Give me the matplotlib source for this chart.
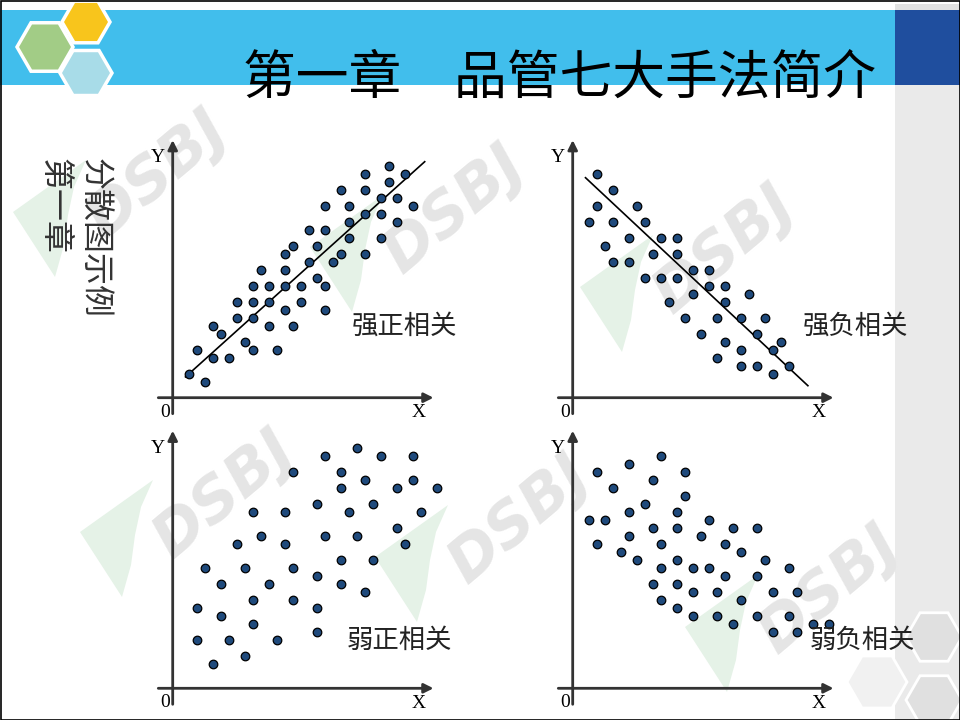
import numpy as np
import matplotlib.pyplot as plt
from matplotlib.patches import Rectangle, RegularPolygon, Polygon

plt.rcParams['font.family'] = ['Noto Sans CJK SC', 'DejaVu Sans']

# ---- data (grid units) ----
strong_pos_x = [2, 4, 3, 5, 5, 6, 7, 8, 8, 9, 10, 10, 10, 10, 11, 12, 12, 12, 13, 14,
                14, 14, 14, 15, 15, 16, 16, 17, 17, 18, 18, 19, 19, 19, 19, 20, 21, 21, 22, 22,
                22, 24, 24, 24, 24, 26, 26, 26, 27, 27, 28, 28, 29, 30]
strong_pos_y = [3, 2, 6, 9, 5, 8, 5, 12, 10, 7, 14, 12, 10, 6, 16, 14, 12, 9, 6, 18,
                16, 14, 11, 19, 9, 14, 12, 21, 17, 19, 15, 24, 21, 14, 11, 17, 26, 18, 24, 22,
                20, 28, 26, 23, 18, 25, 23, 20, 29, 27, 25, 22, 28, 24]
strong_pos_fit_x = [1.6, 31.5]
strong_pos_fit_y = [2.6, 29.5]

strong_neg_x = [3, 5, 3, 8, 2, 5, 9, 7, 11, 13, 4, 10, 13, 5, 7, 15, 17, 9, 11, 13,
                17, 19, 15, 22, 12, 19, 14, 18, 21, 24, 16, 23, 19, 21, 25, 26, 18, 21, 23, 27,
                25]
strong_neg_y = [28, 26, 24, 24, 22, 22, 22, 20, 20, 20, 19, 18, 18, 17, 17, 16, 16, 15, 15, 15,
                14, 14, 13, 13, 12, 12, 10, 10, 10, 10, 8, 8, 7, 6, 6, 7, 5, 4, 4, 4,
                3]
strong_neg_fit_x = [1.6, 29.4]
strong_neg_fit_y = [27.5, 1.5]

weak_pos_x = [19, 23, 26, 30, 15, 21, 24, 21, 28, 30, 33, 18, 25, 10, 14, 22, 31, 8, 11, 14,
              19, 23, 28, 29, 21, 25, 4, 9, 15, 6, 12, 18, 21, 24, 10, 15, 18, 3, 6, 10,
              18, 3, 7, 13, 9, 5]
weak_pos_y = [29, 30, 29, 29, 27, 27, 26, 25, 25, 26, 25, 23, 23, 22, 22, 22, 22, 18, 19, 18,
              19, 19, 20, 18, 16, 16, 15, 15, 15, 13, 13, 14, 13, 12, 11, 11, 10, 10, 9, 8,
              7, 6, 6, 6, 4, 3]

weak_neg_x = [11, 7, 3, 14, 10, 5, 14, 9, 7, 13, 2, 4, 17, 10, 13, 20, 23, 7, 16, 3,
              11, 19, 6, 21, 8, 13, 24, 11, 15, 17, 27, 19, 23, 10, 13, 15, 18, 25, 28, 21,
              11, 13, 15, 18, 23, 27, 20, 30, 32, 25, 28]
weak_neg_y = [29, 28, 27, 27, 26, 25, 24, 23, 22, 22, 21, 21, 21, 20, 20, 20, 20, 19, 19, 18,
              18, 18, 17, 17, 16, 16, 16, 15, 15, 15, 15, 14, 14, 13, 13, 12, 12, 12, 12, 11,
              11, 10, 9, 9, 9, 9, 8, 8, 8, 7, 7]

panel_labels = ['强正相关', '强负相关', '弱正相关', '弱负相关']
title = '第一章\u3000品管七大手法简介'
side_text = ['分散图示例', '第一章']

W, H = 960, 720
UNIT = 8.0   # pixels per grid step
DOT = '#1F4A7C'
AXC = '#333333'

fig = plt.figure(figsize=(9.6, 7.2), dpi=100)

# page axes in pixel units (y down), for the slide decoration
page = fig.add_axes([0, 0, 1, 1])
page.set_xlim(0, W)
page.set_ylim(H, 0)
page.axis('off')

# right grey strip
page.add_patch(Rectangle((895, 85), 65, 635, fc='#EAEAEA', ec='none', zorder=-2))
for (hx, hy, hr, hc) in [(877, 682, 30, '#F1F1F1'), (934, 637, 28, '#E0E0E0'),
                         (934, 700, 28, '#E0E0E0')]:
    page.add_patch(RegularPolygon((hx, hy), 6, radius=hr, orientation=np.pi / 6,
                                  fc=hc, ec='white', lw=2, zorder=-1))

# watermarks: green leaf + DSBJ
tiles = [(158, 175), (455, 210), (725, 250), (225, 495), (520, 520), (830, 590)]
leaf = np.array([(-145, 37), (-72, -15), (-84, 12), (-90, 40), (-94, 70), (-103, 102)])
for cx, cy in tiles:
    page.add_patch(Polygon(leaf + (cx, cy), closed=True, fc='#E5F2E7', ec='none', zorder=0))
    page.text(cx, cy, 'DSBJ', rotation=40, fontsize=44, fontweight='bold',
              fontstyle='italic', family='DejaVu Sans', color='#E5E5E5',
              ha='center', va='center', zorder=0)

# header band
page.add_patch(Rectangle((0, 10), 895, 75, fc='#41BEEC', ec='none', zorder=1))
page.add_patch(Rectangle((895, 4), 65, 6, fc='#E2E2E2', ec='none', zorder=1))
page.add_patch(Rectangle((895, 10), 65, 75, fc='#1F4E9E', ec='none', zorder=1))
for (hx, hy, hr, hc) in [(45, 47, 28, '#A2CC86'), (86, 22, 24, '#F8C51C'),
                         (86, 73, 26, '#A8DCE8')]:
    page.add_patch(RegularPolygon((hx, hy), 6, radius=hr, orientation=np.pi / 6,
                                  fc=hc, ec='white', lw=2.5, zorder=2))

page.text(243, 78, title, fontsize=38, ha='left', va='center', color='black', zorder=5)
page.text(95, 158, side_text[0], rotation=-90, fontsize=23, ha='center', va='top',
          color='#333333', zorder=5)
page.text(55, 158, side_text[1], rotation=-90, fontsize=23, ha='center', va='top',
          color='#333333', zorder=5)

page.add_patch(Rectangle((0.5, 0.5), 959, 719, fill=False, ec='black', lw=1.2, zorder=10))


def make_panel(ox, oy):
    """Axes whose data origin sits at pixel (ox, oy) of the slide."""
    xmin, xmax, ymin, ymax = -3, 38, -3, 34
    ax = fig.add_axes([(ox + xmin * UNIT) / W, (H - oy + ymin * UNIT) / H,
                       (xmax - xmin) * UNIT / W, (ymax - ymin) * UNIT / H])
    ax.set_xlim(xmin, xmax)
    ax.set_ylim(ymin, ymax)
    ax.axis('off')
    ax.patch.set_alpha(0)
    arrow = dict(arrowstyle='-|>', color=AXC, lw=2, mutation_scale=14, shrinkA=0, shrinkB=0)
    ax.annotate('', xy=(32.6, 0), xytext=(-1.8, 0), arrowprops=arrow)
    ax.annotate('', xy=(0, 32.2), xytext=(0, -2.0), arrowprops=arrow)
    ax.text(-1.9, 30.0, 'Y', family='Liberation Serif', fontsize=14, ha='center', va='center')
    ax.text(-1.0, -1.8, '0', family='Liberation Serif', fontsize=14, ha='center', va='center')
    ax.text(30.7, -1.9, 'X', family='Liberation Serif', fontsize=14, ha='center', va='center')
    return ax


def dots(ax, x, y):
    ax.scatter(x, y, s=38, c=DOT, edgecolors='black', linewidths=0.9, zorder=3)


ax1 = make_panel(172.7, 397.7)
dots(ax1, strong_pos_x, strong_pos_y)
ax1.plot(strong_pos_fit_x, strong_pos_fit_y, color='black', lw=1.2, zorder=2)
ax1.text(29.0, 8.9, panel_labels[0], fontsize=19, color='#222222', ha='center', va='center')

ax2 = make_panel(572.7, 397.7)
dots(ax2, strong_neg_x, strong_neg_y)
ax2.plot(strong_neg_fit_x, strong_neg_fit_y, color='black', lw=1.2, zorder=2)
ax2.text(35.3, 8.9, panel_labels[1], fontsize=19, color='#222222', ha='center', va='center')

ax3 = make_panel(172.7, 688.3)
dots(ax3, weak_pos_x, weak_pos_y)
ax3.text(28.3, 6.0, panel_labels[2], fontsize=19, color='#222222', ha='center', va='center')

ax4 = make_panel(572.7, 688.3)
dots(ax4, weak_neg_x, weak_neg_y)
ax4.text(36.2, 6.0, panel_labels[3], fontsize=19, color='#222222', ha='center', va='center')

fig.savefig('out.png', dpi=100)
